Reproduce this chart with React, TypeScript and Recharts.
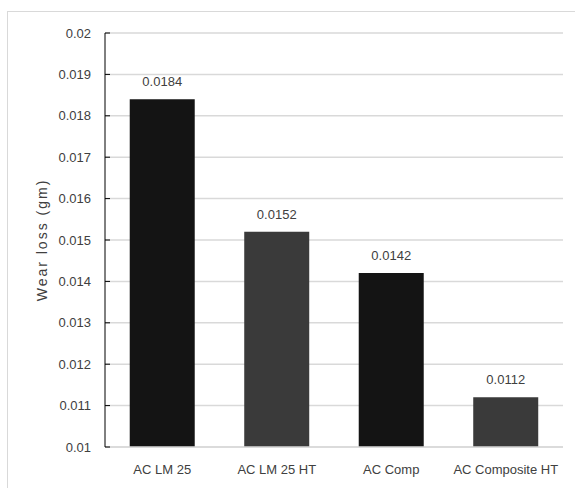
import React from 'react';
import { BarChart, Bar, XAxis, YAxis, CartesianGrid, Cell, LabelList } from 'recharts';

// wear loss per sample
const SAMPLES = ['AC LM 25', 'AC LM 25 HT', 'AC Comp', 'AC Composite HT'];
const WEAR_LOSS = [0.0184, 0.0152, 0.0142, 0.0112];
const BAR_COLORS = ['#141414', '#3a3a3a', '#141414', '#3a3a3a'];
const Y_TICKS = [0.01, 0.011, 0.012, 0.013, 0.014, 0.015, 0.016, 0.017, 0.018, 0.019, 0.02];

const data = SAMPLES.map((name, i) => ({ name, value: WEAR_LOSS[i] }));

const FONT = '"Liberation Sans", Arial, sans-serif';
const TEXT = '#404040';
const TICK_MARGIN = 14;

// y ticks drawn inside the axis like excel
const YTick = (props: any) => {
  const { x, y, payload } = props;
  const ax = x + TICK_MARGIN;
  return (
    <g>
      <line x1={ax} y1={y} x2={ax + 5} y2={y} stroke="#000" strokeWidth={1} />
      <text x={x} y={y} dy={4.5} textAnchor="end" fill={TEXT} fontSize={13} fontFamily={FONT}>
        {String(payload.value)}
      </text>
    </g>
  );
};

export default function App() {
  return (
    <div style={{ position: 'absolute', left: 0, top: 0, width: 575, height: 488, overflow: 'hidden', background: '#fff' }}>
      <div style={{ position: 'absolute', left: 7, top: 11, width: 600, height: 520, border: '1px solid #d9d9d9' }} />
      <div style={{ position: 'absolute', left: 0, top: 0 }}>
        <BarChart
          width={575}
          height={488}
          data={data}
          margin={{ top: 33, right: 12, left: 0, bottom: 0 }}
          barCategoryGap="21.6%"
        >
          <CartesianGrid vertical={false} stroke="#d9d9d9" strokeWidth={1.5} />
          <XAxis
            dataKey="name"
            height={41}
            axisLine={{ stroke: '#d9d9d9', strokeWidth: 1.5 }}
            tickLine={false}
            tickSize={0}
            tickMargin={18}
            tick={{ fill: TEXT, fontSize: 13, fontFamily: FONT }}
          />
          <YAxis
            width={105}
            domain={[0.01, 0.02]}
            ticks={Y_TICKS}
            allowDataOverflow
            axisLine={{ stroke: '#000', strokeWidth: 1 }}
            tickLine={false}
            tickSize={0}
            tickMargin={TICK_MARGIN}
            tick={<YTick />}
            label={{
              value: 'Wear loss (gm)',
              angle: -90,
              position: 'insideLeft',
              offset: 42,
              style: { textAnchor: 'middle', fill: TEXT, fontSize: 14, fontFamily: FONT, letterSpacing: 2 },
            }}
          />
          <Bar dataKey="value" isAnimationActive={false}>
            {data.map((d, i) => (
              <Cell key={d.name} fill={BAR_COLORS[i]} />
            ))}
            <LabelList dataKey="value" position="top" offset={13} fill={TEXT} fontSize={13} fontFamily={FONT} />
          </Bar>
        </BarChart>
      </div>
    </div>
  );
}
